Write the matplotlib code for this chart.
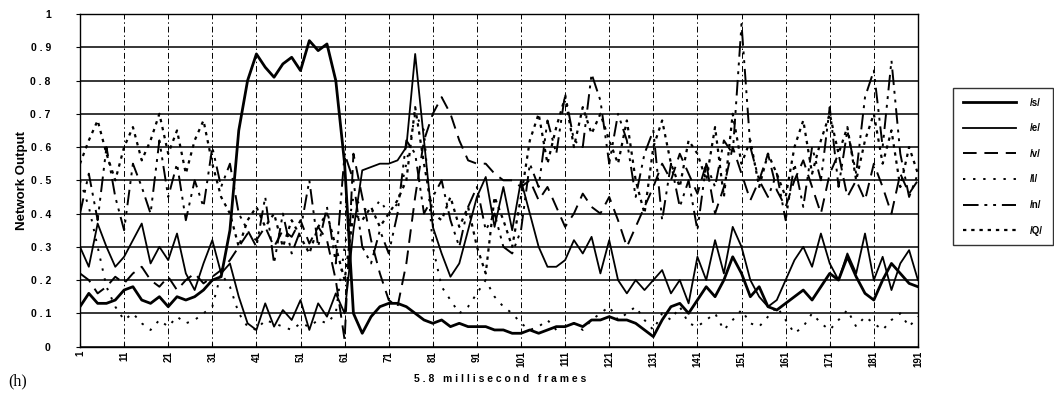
import matplotlib
matplotlib.use('Agg')
import matplotlib.pyplot as plt
import numpy as np

plt.rcParams['font.family'] = ['Liberation Sans', 'DejaVu Sans']

# frames sampled every 2 frames
frames = list(range(1, 192, 2))

s_vals = [0.12, 0.16, 0.13, 0.13, 0.14, 0.17, 0.18, 0.14, 0.13, 0.15,
          0.12, 0.15, 0.14, 0.15, 0.17, 0.20, 0.21, 0.35, 0.65, 0.80,
          0.88, 0.84, 0.81, 0.85, 0.87, 0.83, 0.92, 0.89, 0.91, 0.80,
          0.55, 0.10, 0.04, 0.09, 0.12, 0.13, 0.13, 0.12, 0.10, 0.08,
          0.07, 0.08, 0.06, 0.07, 0.06, 0.06, 0.06, 0.05, 0.05, 0.04,
          0.04, 0.05, 0.04, 0.05, 0.06, 0.06, 0.07, 0.06, 0.08, 0.08,
          0.09, 0.08, 0.08, 0.07, 0.05, 0.03, 0.08, 0.12, 0.13, 0.10,
          0.14, 0.18, 0.15, 0.20, 0.27, 0.22, 0.15, 0.18, 0.12, 0.11,
          0.13, 0.15, 0.17, 0.14, 0.18, 0.22, 0.20, 0.27, 0.21, 0.16,
          0.14, 0.20, 0.25, 0.22, 0.19, 0.18]

e_vals = [0.30, 0.24, 0.37, 0.30, 0.24, 0.27, 0.32, 0.37, 0.25, 0.30,
          0.26, 0.34, 0.22, 0.17, 0.25, 0.32, 0.22, 0.25, 0.15, 0.07,
          0.05, 0.13, 0.06, 0.11, 0.08, 0.14, 0.05, 0.13, 0.09, 0.16,
          0.10, 0.35, 0.53, 0.54, 0.55, 0.55, 0.56, 0.60, 0.88, 0.62,
          0.36, 0.28, 0.21, 0.25, 0.35, 0.45, 0.51, 0.36, 0.48, 0.35,
          0.50, 0.40, 0.30, 0.24, 0.24, 0.26, 0.32, 0.28, 0.33, 0.22,
          0.32, 0.20, 0.16, 0.20, 0.17, 0.20, 0.23, 0.16, 0.20, 0.13,
          0.27, 0.20, 0.32, 0.22, 0.36, 0.30, 0.20, 0.15, 0.12, 0.14,
          0.20, 0.26, 0.30, 0.24, 0.34, 0.25, 0.20, 0.28, 0.22, 0.34,
          0.20, 0.27, 0.17, 0.25, 0.29, 0.20]

v_vals = [0.22, 0.20, 0.16, 0.18, 0.21, 0.19, 0.22, 0.24, 0.20, 0.18,
          0.21, 0.17, 0.20, 0.22, 0.19, 0.21, 0.23, 0.26, 0.30, 0.34,
          0.32, 0.36, 0.30, 0.35, 0.33, 0.38, 0.31, 0.36, 0.32, 0.20,
          0.02, 0.58, 0.45, 0.32, 0.22, 0.14, 0.12, 0.25, 0.45, 0.62,
          0.70, 0.75, 0.70, 0.62, 0.56, 0.55, 0.55, 0.52, 0.50, 0.50,
          0.48, 0.50, 0.44, 0.48, 0.42, 0.36, 0.40, 0.46, 0.42, 0.40,
          0.45, 0.38, 0.30, 0.36, 0.42, 0.48, 0.55, 0.50, 0.58, 0.52,
          0.46, 0.55, 0.40, 0.48, 0.60, 0.52, 0.44, 0.50, 0.58, 0.47,
          0.42, 0.50, 0.56, 0.48, 0.40, 0.52, 0.58, 0.45, 0.50, 0.44,
          0.55, 0.48, 0.40, 0.52, 0.46, 0.50]

l_vals = [0.50, 0.42, 0.30, 0.18, 0.12, 0.08, 0.10, 0.07, 0.05, 0.08,
          0.06, 0.09, 0.07, 0.08, 0.10, 0.12, 0.22, 0.18, 0.10, 0.06,
          0.05, 0.08, 0.07, 0.06, 0.05, 0.07, 0.06, 0.08, 0.07, 0.10,
          0.30, 0.45, 0.42, 0.40, 0.44, 0.40, 0.43, 0.55, 0.70, 0.65,
          0.30, 0.18, 0.14, 0.10, 0.12, 0.16, 0.20, 0.15, 0.12, 0.10,
          0.07, 0.05, 0.06, 0.08, 0.05, 0.06, 0.07, 0.05, 0.08, 0.10,
          0.12, 0.08, 0.10, 0.12, 0.08, 0.05, 0.10, 0.08, 0.12, 0.07,
          0.06, 0.08, 0.10, 0.05, 0.08, 0.11, 0.07, 0.06, 0.09, 0.12,
          0.08, 0.04, 0.06, 0.10, 0.07, 0.05, 0.08, 0.11, 0.06, 0.09,
          0.07, 0.05, 0.08, 0.10, 0.06, 0.09]

n_vals = [0.40, 0.52, 0.38, 0.60, 0.45, 0.35, 0.55, 0.48, 0.40, 0.62,
          0.45, 0.55, 0.38, 0.50, 0.42, 0.60, 0.48, 0.55, 0.40, 0.35,
          0.30, 0.45, 0.25, 0.40, 0.28, 0.35, 0.50, 0.30, 0.42, 0.25,
          0.58, 0.50, 0.30, 0.25, 0.35, 0.28, 0.40, 0.62, 0.58, 0.40,
          0.45, 0.50, 0.38, 0.30, 0.42, 0.48, 0.35, 0.40, 0.30, 0.28,
          0.35, 0.55, 0.48, 0.68, 0.58, 0.76, 0.62, 0.60, 0.82, 0.74,
          0.55, 0.70, 0.62, 0.45, 0.58, 0.65, 0.38, 0.55, 0.42, 0.50,
          0.35, 0.55, 0.48, 0.62, 0.58, 0.97, 0.60, 0.50, 0.45, 0.52,
          0.38, 0.55, 0.42, 0.60, 0.50, 0.72, 0.48, 0.65, 0.52, 0.75,
          0.83, 0.60, 0.86, 0.58, 0.45, 0.52]

q_vals = [0.55, 0.62, 0.68, 0.58, 0.50, 0.60, 0.66, 0.56, 0.62, 0.70,
          0.58, 0.65, 0.52, 0.62, 0.68, 0.55, 0.45, 0.40, 0.30, 0.38,
          0.42, 0.36, 0.40, 0.30, 0.38, 0.33, 0.28, 0.36, 0.40, 0.30,
          0.20, 0.40, 0.38, 0.42, 0.36, 0.40, 0.44, 0.50, 0.72, 0.55,
          0.40, 0.38, 0.45, 0.36, 0.42, 0.30, 0.22, 0.45, 0.38, 0.30,
          0.45, 0.62, 0.70, 0.55, 0.66, 0.75, 0.60, 0.72, 0.64, 0.70,
          0.62, 0.55, 0.68, 0.50, 0.40, 0.60, 0.68, 0.55, 0.48, 0.62,
          0.58, 0.50, 0.66, 0.45, 0.70, 0.55, 0.62, 0.48, 0.58, 0.52,
          0.45, 0.60, 0.68, 0.52, 0.62, 0.70, 0.58, 0.66, 0.50, 0.62,
          0.70, 0.55, 0.65, 0.48, 0.60, 0.52]

labels = ['/s/', '/e/', '/v/', '/l/', '/n/', '/Q/']
x_ticks = list(range(1, 192, 10))
y_ticks = [0, 0.1, 0.2, 0.3, 0.4, 0.5, 0.6, 0.7, 0.8, 0.9, 1]
y_ticklabels = ['0', '0 . 1', '0 . 2', '0 . 3', '0 . 4', '0 . 5', '0 . 6',
                '0 . 7', '0 . 8', '0 . 9', '1']

fig = plt.figure(figsize=(10.54, 4.01), dpi=100)
ax = fig.add_axes([0.0759, 0.1357, 0.795, 0.8293])

ax.set_xlim(1, 191)
ax.set_ylim(0, 1)

# gridlines
ax.set_axisbelow(True)
ax.yaxis.grid(True, color='black', lw=1.1)
ax.xaxis.grid(True, color='black', lw=0.7, linestyle=(0, (6, 3, 1.5, 3)))

styles = [
    dict(lw=2.0, linestyle='-'),
    dict(lw=1.3, linestyle='-'),
    dict(lw=1.4, linestyle=(0, (7, 4))),
    dict(lw=1.4, linestyle=(0, (1.2, 4))),
    dict(lw=1.4, linestyle=(0, (8, 3, 1.5, 3, 1.5, 3))),
    dict(lw=1.6, linestyle=(0, (1.5, 2.2))),
]
series = [s_vals, e_vals, v_vals, l_vals, n_vals, q_vals]
handles = []
for vals, lab, st in zip(series, labels, styles):
    h, = ax.plot(frames, vals, color='black', label=lab, **st)
    handles.append(h)

ax.set_xticks(x_ticks)
ax.set_xticklabels([str(t) for t in x_ticks], rotation=90, fontsize=7,
                   fontweight='bold')
ax.set_yticks(y_ticks)
ax.set_yticklabels(y_ticklabels, fontsize=7.5, fontweight='bold')
ax.tick_params(axis='both', length=3, width=0.8, color='black')
ax.tick_params(axis='x', direction='in', pad=3)
ax.tick_params(axis='y', direction='out', pad=18)

for sp in ax.spines.values():
    sp.set_color('black')
    sp.set_linewidth(1.0)

ax.set_ylabel('Network Output', fontsize=9.5, fontweight='bold', labelpad=2)
fig.text(0.4745, 0.055, '5 . 8   m i l l i s e c o n d   f r a m e s',
         ha='center', va='center', fontsize=7.5, fontweight='bold')
fig.text(0.008, 0.05, '(h)', ha='left', va='center', fontsize=11.5,
         family='Liberation Serif')

leg = fig.legend(handles=handles, labels=labels, loc='upper left',
                 bbox_to_anchor=(953 / 1054, 1 - 88 / 401),
                 fontsize=7, frameon=True, fancybox=False, shadow=False,
                 handlelength=5.5, handletextpad=1.4, labelspacing=1.6,
                 borderpad=1.0, borderaxespad=0.0)
leg.get_frame().set_edgecolor('black')
leg.get_frame().set_linewidth(1.0)
for t in leg.get_texts():
    t.set_fontweight('bold')

fig.savefig('out.png', dpi=100, facecolor='white')
